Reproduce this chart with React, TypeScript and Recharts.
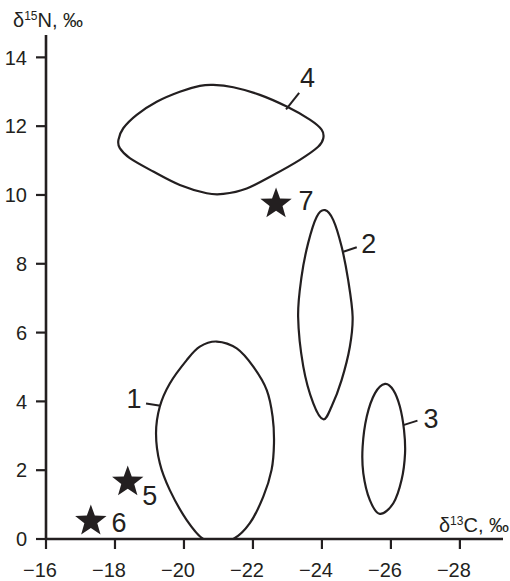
import React from 'react';
import { ScatterChart, Scatter, XAxis, YAxis } from 'recharts';

const INK = '#231f20';
const FONT = '"Liberation Sans", Arial, sans-serif';

const xTicks = [-16, -18, -20, -22, -24, -26, -28];
const yTicks = [0, 2, 4, 6, 8, 10, 12, 14];

const group1 = [
  { x: -20.95, y: 5.74 }, { x: -21.53, y: 5.54 }, { x: -22.01, y: 5.01 }, { x: -22.4, y: 4.33 },
  { x: -22.57, y: 3.56 }, { x: -22.61, y: 2.78 }, { x: -22.54, y: 2.01 }, { x: -22.3, y: 1.23 },
  { x: -21.91, y: 0.46 }, { x: -21.43, y: 0.0 }, { x: -21.0, y: -0.02 }, { x: -20.56, y: 0.0 },
  { x: -20.08, y: 0.55 }, { x: -19.59, y: 1.42 }, { x: -19.3, y: 2.2 }, { x: -19.19, y: 3.07 },
  { x: -19.3, y: 3.85 }, { x: -19.59, y: 4.52 }, { x: -20.08, y: 5.2 }, { x: -20.46, y: 5.59 },
];
const group2 = [
  { x: -24.09, y: 9.56 }, { x: -24.33, y: 9.27 }, { x: -24.57, y: 8.5 }, { x: -24.76, y: 7.53 },
  { x: -24.89, y: 6.46 }, { x: -24.81, y: 5.59 }, { x: -24.57, y: 4.62 }, { x: -24.28, y: 3.85 },
  { x: -24.04, y: 3.48 }, { x: -23.75, y: 3.94 }, { x: -23.46, y: 5.01 }, { x: -23.31, y: 6.46 },
  { x: -23.41, y: 7.63 }, { x: -23.6, y: 8.6 }, { x: -23.85, y: 9.37 },
];
const group3 = [
  { x: -25.83, y: 4.51 }, { x: -26.07, y: 4.33 }, { x: -26.26, y: 3.85 }, { x: -26.38, y: 3.17 },
  { x: -26.41, y: 2.49 }, { x: -26.31, y: 1.72 }, { x: -26.07, y: 1.04 }, { x: -25.68, y: 0.73 },
  { x: -25.39, y: 1.13 }, { x: -25.2, y: 1.91 }, { x: -25.18, y: 2.68 }, { x: -25.3, y: 3.56 },
  { x: -25.54, y: 4.24 },
];
const group4 = [
  { x: -18.1, y: 11.6 }, { x: -18.24, y: 11.94 }, { x: -18.63, y: 12.33 }, { x: -19.21, y: 12.71 },
  { x: -19.88, y: 13.0 }, { x: -20.46, y: 13.17 }, { x: -20.85, y: 13.2 }, { x: -21.43, y: 13.13 },
  { x: -22.2, y: 12.91 }, { x: -22.98, y: 12.57 }, { x: -23.65, y: 12.19 }, { x: -23.99, y: 11.9 },
  { x: -24.04, y: 11.65 }, { x: -23.89, y: 11.4 }, { x: -23.36, y: 11.02 }, { x: -22.59, y: 10.58 },
  { x: -21.82, y: 10.19 }, { x: -21.14, y: 10.03 }, { x: -20.66, y: 10.05 }, { x: -19.88, y: 10.29 },
  { x: -19.11, y: 10.68 }, { x: -18.43, y: 11.07 }, { x: -18.14, y: 11.36 },
];

const stars = [
  { x: -18.37, y: 1.66 },
  { x: -17.3, y: 0.52 },
  { x: -22.67, y: 9.74 },
];

const labels = [
  { x: -18.55, y: 4.1, text: '1' },
  { x: -25.36, y: 8.6, text: '2' },
  { x: -27.16, y: 3.52, text: '3' },
  { x: -23.58, y: 13.43, text: '4' },
  { x: -19.01, y: 1.28, text: '5' },
  { x: -18.12, y: 0.47, text: '6' },
  { x: -23.54, y: 9.83, text: '7' },
];

const leader1 = [{ x: -18.9, y: 3.94 }, { x: -19.32, y: 3.87 }];
const leader2 = [{ x: -24.62, y: 8.35 }, { x: -25.01, y: 8.48 }];
const leader3 = [{ x: -26.36, y: 3.31 }, { x: -26.77, y: 3.44 }];
const leader4 = [{ x: -22.96, y: 12.49 }, { x: -23.34, y: 12.97 }];

const fmt = (v: number) => (v < 0 ? '\u2212' + Math.abs(v) : String(v));

// closed Catmull-Rom style curve factory
function closedSmooth(context: any) {
  let pts: number[][] = [];
  return {
    areaStart() {},
    areaEnd() {},
    lineStart() { pts = []; },
    point(x: number, y: number) { pts.push([+x, +y]); },
    lineEnd() {
      const n = pts.length;
      if (!n) return;
      context.moveTo(pts[0][0], pts[0][1]);
      const t = 1 / 6;
      for (let i = 0; i < n; i++) {
        const p0 = pts[(i - 1 + n) % n];
        const p1 = pts[i];
        const p2 = pts[(i + 1) % n];
        const p3 = pts[(i + 2) % n];
        context.bezierCurveTo(
          p1[0] + (p2[0] - p0[0]) * t, p1[1] + (p2[1] - p0[1]) * t,
          p2[0] - (p3[0] - p1[0]) * t, p2[1] - (p3[1] - p1[1]) * t,
          p2[0], p2[1]
        );
      }
      context.closePath();
    },
  };
}

const NoDot = () => <g />;

const starPath = (cx: number, cy: number, R: number, r: number) => {
  let d = '';
  for (let i = 0; i < 10; i++) {
    const rad = i % 2 === 0 ? R : r;
    const a = -Math.PI / 2 + (i * Math.PI) / 5;
    d += (i === 0 ? 'M' : 'L') + (cx + rad * Math.cos(a)).toFixed(2) + ',' + (cy + rad * Math.sin(a)).toFixed(2);
  }
  return d + 'Z';
};

const Star = (props: any) => {
  const { cx, cy } = props;
  return <path d={starPath(cx, cy, 16.5, 6.8)} fill={INK} />;
};

const LabelText = (props: any) => {
  const { cx, cy, payload } = props;
  return (
    <text x={cx} y={cy} dy={9.6} textAnchor="middle" fontSize={27} fontFamily={FONT} fill={INK}>
      {payload.text}
    </text>
  );
};

const XTick = (props: any) => {
  const { x, y, payload } = props;
  return (
    <text x={x + 11} y={y} dy={26} textAnchor="end" fontSize={20} fontFamily={FONT} fill={INK}>
      {fmt(payload.value)}
    </text>
  );
};

const YTick = (props: any) => {
  const { x, y, payload } = props;
  return (
    <text x={x - 7} y={y} dy={7.2} textAnchor="end" fontSize={20} fontFamily={FONT} fill={INK}>
      {fmt(payload.value)}
    </text>
  );
};

const XTitle = () => (
  <text x={509} y={532} textAnchor="end" fontSize={20} fontFamily={FONT} fill={INK}>
    δ<tspan fontSize={12} dy={-7}>13</tspan><tspan dy={7}>C, ‰</tspan>
  </text>
);

const YTitle = () => (
  <text x={13} y={27} textAnchor="start" fontSize={20} fontFamily={FONT} fill={INK}>
    δ<tspan fontSize={12} dy={-7}>15</tspan><tspan dy={7}>N, ‰</tspan>
  </text>
);

const lineStyle = { stroke: INK, strokeWidth: 2.2, fill: 'none' };

export default function App() {
  return (
    <div style={{ position: 'absolute', left: 0, top: 0, width: 510, height: 581, background: '#fff' }}>
      <ScatterChart width={510} height={581} margin={{ top: 35, right: 7, bottom: 0, left: 0 }}>
        <XAxis
          type="number"
          dataKey="x"
          domain={[-29.25, -16]}
          reversed
          allowDataOverflow
          ticks={xTicks}
          interval={0}
          height={42}
          tickSize={10}
          axisLine={{ stroke: INK, strokeWidth: 2.6 }}
          tickLine={{ stroke: INK, strokeWidth: 2.2 }}
          tick={<XTick />}
          label={<XTitle />}
        />
        <YAxis
          type="number"
          dataKey="y"
          domain={[0, 14.65]}
          allowDataOverflow
          ticks={yTicks}
          interval={0}
          width={46}
          tickSize={10}
          axisLine={{ stroke: INK, strokeWidth: 2.6 }}
          tickLine={{ stroke: INK, strokeWidth: 2.2 }}
          tick={<YTick />}
          label={<YTitle />}
        />
        <Scatter data={group1} shape={<NoDot />} line={lineStyle} lineJointType={closedSmooth as any} isAnimationActive={false} />
        <Scatter data={group2} shape={<NoDot />} line={lineStyle} lineJointType={closedSmooth as any} isAnimationActive={false} />
        <Scatter data={group3} shape={<NoDot />} line={lineStyle} lineJointType={closedSmooth as any} isAnimationActive={false} />
        <Scatter data={group4} shape={<NoDot />} line={lineStyle} lineJointType={closedSmooth as any} isAnimationActive={false} />
        <Scatter data={leader1} shape={<NoDot />} line={{ stroke: INK, strokeWidth: 2 }} lineJointType="linear" isAnimationActive={false} />
        <Scatter data={leader2} shape={<NoDot />} line={{ stroke: INK, strokeWidth: 2 }} lineJointType="linear" isAnimationActive={false} />
        <Scatter data={leader3} shape={<NoDot />} line={{ stroke: INK, strokeWidth: 2 }} lineJointType="linear" isAnimationActive={false} />
        <Scatter data={leader4} shape={<NoDot />} line={{ stroke: INK, strokeWidth: 2 }} lineJointType="linear" isAnimationActive={false} />
        <Scatter data={stars} shape={<Star />} isAnimationActive={false} />
        <Scatter data={labels} shape={<LabelText />} isAnimationActive={false} />
      </ScatterChart>
    </div>
  );
}
